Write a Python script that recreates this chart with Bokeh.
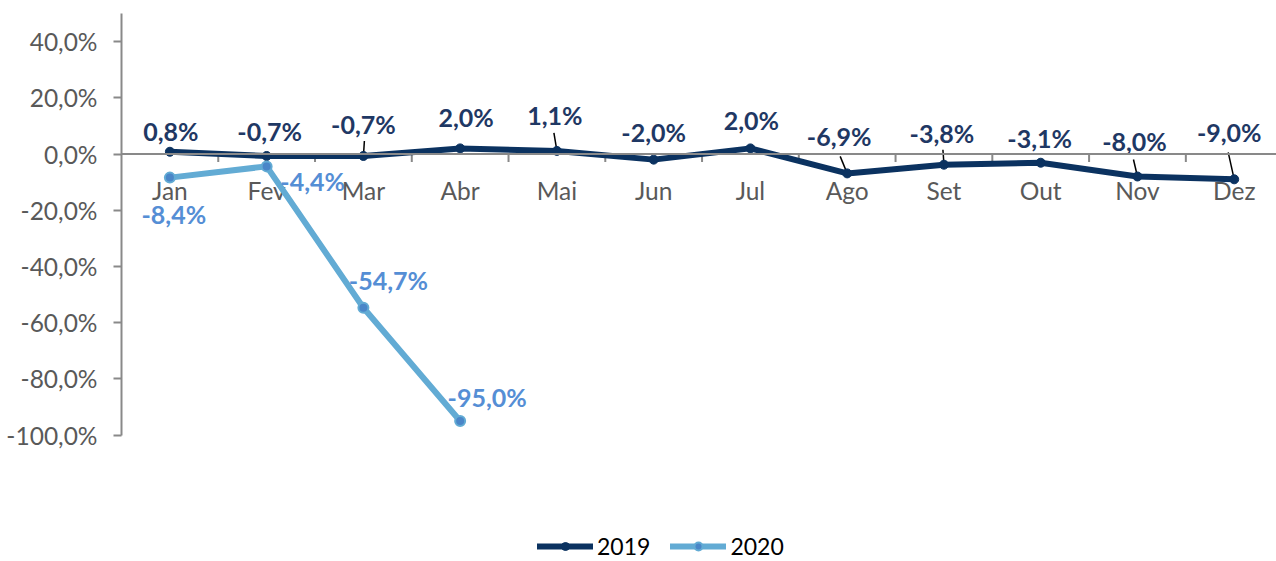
import math
from bokeh.plotting import figure
from bokeh.models import Range1d, FixedTicker, Span, Legend, LegendItem, ColumnDataSource
from bokeh.core.properties import value
from bokeh.embed import file_html
from bokeh.resources import INLINE

# ---- data ----
months = ["Jan", "Fev", "Mar", "Abr", "Mai", "Jun", "Jul", "Ago", "Set", "Out", "Nov", "Dez"]
vals_2019 = [0.8, -0.7, -0.7, 2.0, 1.1, -2.0, 2.0, -6.9, -3.8, -3.1, -8.0, -9.0]
vals_2020 = [-8.4, -4.4, -54.7, -95.0]
labels_2019 = ["0,8%", "-0,7%", "-0,7%", "2,0%", "1,1%", "-2,0%", "2,0%", "-6,9%", "-3,8%", "-3,1%", "-8,0%", "-9,0%"]
labels_2020 = ["-8,4%", "-4,4%", "-54,7%", "-95,0%"]
y_ticks = [-100, -80, -60, -40, -20, 0, 20, 40]
y_tick_labels = ["-100,0%", "-80,0%", "-60,0%", "-40,0%", "-20,0%", "0,0%", "20,0%", "40,0%"]

# ---- styles (label offsets in screen px) ----
off_2019_dx = [1, 3, 0, 6, -2, 0, 1, -8, -2, -1, -3, -5]
off_2019_dy = [-21, -25, -32, -31, -36, -28, -28, -37, -32, -25, -35, -47]
off_2020_dx = [4, 46, 25, 27]
off_2020_dy = [36, 15, -28, -24]
# leader lines (index, dx, dy to upper end, screen px)
leaders = [(2, 1, -15), (4, -3, -18), (7, -7, -17), (8, -1, -15), (10, -4, -17), (11, -6, -27)]

C19 = "#0B3260"
C19_LBL = "#1F3864"
C20 = "#62ABD4"
C20_MK = "#4A86C8"
C20_LBL = "#558ED5"
GRAY = "#898989"
TXT = "#595959"
FONT = value("Lato")

x19 = list(range(len(months)))
x20 = list(range(len(vals_2020)))

p = figure(width=1276, height=561, output_backend="svg", toolbar_location=None,
           x_range=Range1d(-0.5, 11.437), y_range=Range1d(-145, 50),
           x_axis_location=None, min_border_left=121, min_border_right=0,
           min_border_top=13, min_border_bottom=0)
p.outline_line_color = None
p.grid.visible = False
p.background_fill_color = "white"
p.border_fill_color = "white"

ax = p.yaxis[0]
ax.bounds = (-100, 50)
ax.ticker = FixedTicker(ticks=y_ticks)
ax.major_label_overrides = {t: l for t, l in zip(y_ticks, y_tick_labels)}
ax.axis_line_color = GRAY
ax.axis_line_width = 2
ax.major_tick_line_color = GRAY
ax.major_tick_line_width = 2
ax.major_tick_out = 8
ax.major_tick_in = 0
ax.minor_tick_line_color = None
ax.major_label_standoff = 16
ax.major_label_text_font = "Lato"
ax.major_label_text_font_size = "24.5px"
ax.major_label_text_color = TXT

# zero line + category ticks + category labels
p.add_layout(Span(location=0, dimension="width", line_color=GRAY, line_width=2))
p.ray(x=[i + 0.5 for i in x19], y=[0] * len(x19), length=8, length_units="screen",
      angle=-math.pi / 2, line_color=GRAY, line_width=2)
p.text(x=x19, y=[0] * len(x19), text=months, y_offset=36, text_align="center",
       text_baseline="middle", text_font=FONT, text_font_size="24.5px", text_color=TXT)

# leader lines
lx = [x19[i] for i, _, _ in leaders]
ly = [vals_2019[i] for i, _, _ in leaders]
lang = [math.atan2(-dy, dx) for _, dx, dy in leaders]
llen = [math.hypot(dx, dy) for _, dx, dy in leaders]
p.ray(x=lx, y=ly, angle=lang, length=llen, length_units="screen", line_color="black", line_width=1.5)

# series
r19l = p.line(x19, vals_2019, line_color=C19, line_width=6, line_join="round", line_cap="round")
r19m = p.scatter(x19, vals_2019, marker="circle", size=9, fill_color=C19, line_color=C19)
r20l = p.line(x20, vals_2020, line_color=C20, line_width=6, line_join="round", line_cap="round")
r20m = p.scatter(x20, vals_2020, marker="circle", size=10, fill_color=C20_MK, line_color=C20, line_width=2)

s19 = ColumnDataSource(dict(x=x19, y=vals_2019, t=labels_2019, dx=off_2019_dx, dy=off_2019_dy))
p.text(x="x", y="y", text="t", x_offset="dx", y_offset="dy", source=s19, text_align="center",
       text_baseline="middle", text_font=FONT, text_font_style="bold", text_font_size="25px",
       text_color=C19_LBL)
s20 = ColumnDataSource(dict(x=x20, y=vals_2020, t=labels_2020, dx=off_2020_dx, dy=off_2020_dy))
p.text(x="x", y="y", text="t", x_offset="dx", y_offset="dy", source=s20, text_align="center",
       text_baseline="middle", text_font=FONT, text_font_style="bold", text_font_size="25px",
       text_color=C20_LBL)

legend = Legend(items=[LegendItem(label="2019", renderers=[r19l, r19m]),
                       LegendItem(label="2020", renderers=[r20l, r20m])],
                location=(416, 1), orientation="horizontal",
                glyph_width=56, glyph_height=20, label_standoff=4, spacing=20,
                label_text_font="Lato", label_text_font_size="23px", label_text_color="black",
                border_line_color=None, background_fill_alpha=0, padding=0, margin=0)
p.add_layout(legend, "center")

open("out.html", "w").write(file_html(p, INLINE))
